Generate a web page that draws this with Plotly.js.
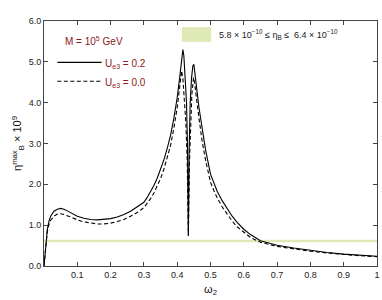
<!DOCTYPE html>
<html>
<head>
<meta charset="utf-8">
<script src="https://cdn.plot.ly/plotly-3.0.1.min.js"></script>
<style>
html,body{margin:0;padding:0;background:#fff;}
#chart{width:382px;height:300px;}
</style>
</head>
<body>
<div id="chart"></div>
<script>
// omega_2 values and eta_B^max x 10^9 for U_e3 = 0.2 (solid)
var wSolid = [0, 0.005, 0.01, 0.015, 0.02, 0.03, 0.04, 0.05, 0.06, 0.07, 0.08, 0.1, 0.12, 0.14, 0.16, 0.18, 0.2, 0.22, 0.24, 0.26, 0.28, 0.3, 0.31, 0.32, 0.33, 0.34, 0.35, 0.36, 0.37, 0.38, 0.39, 0.40, 0.408, 0.413, 0.417, 0.42, 0.424, 0.428, 0.431, 0.4335, 0.436, 0.439, 0.443, 0.447, 0.45, 0.454, 0.46, 0.465, 0.475, 0.485, 0.5, 0.51, 0.52, 0.535, 0.55, 0.565, 0.58, 0.6, 0.62, 0.65, 0.68, 0.7, 0.75, 0.8, 0.85, 0.9, 0.95, 1.0];
var etaSolid = [0, 0.55, 0.9, 1.1, 1.22, 1.34, 1.39, 1.41, 1.39, 1.35, 1.3, 1.22, 1.17, 1.14, 1.13, 1.14, 1.16, 1.2, 1.26, 1.34, 1.44, 1.56, 1.68, 1.82, 1.97, 2.15, 2.36, 2.6, 2.88, 3.2, 3.62, 4.12, 4.65, 5.0, 5.3, 5.15, 4.6, 4.0, 2.9, 0.74, 2.9, 4.0, 4.6, 4.9, 4.94, 4.7, 4.25, 3.9, 3.35, 2.85, 2.25, 2.02, 1.83, 1.6, 1.4, 1.22, 1.07, 0.9, 0.77, 0.62, 0.55, 0.51, 0.44, 0.38, 0.33, 0.29, 0.26, 0.24];
// U_e3 = 0.0 (dashed)
var wDashed = [0, 0.005, 0.01, 0.015, 0.02, 0.03, 0.04, 0.05, 0.06, 0.08, 0.1, 0.12, 0.14, 0.16, 0.18, 0.2, 0.22, 0.24, 0.26, 0.28, 0.3, 0.31, 0.32, 0.33, 0.34, 0.35, 0.36, 0.37, 0.38, 0.39, 0.40, 0.407, 0.413, 0.417, 0.421, 0.426, 0.43, 0.4335, 0.437, 0.44, 0.444, 0.449, 0.453, 0.46, 0.465, 0.475, 0.485, 0.5, 0.51, 0.52, 0.535, 0.55, 0.565, 0.58, 0.6, 0.62, 0.65, 0.68, 0.7, 0.75, 0.8, 0.85, 0.9, 0.95, 1.0];
var etaDashed = [0, 0.5, 0.85, 1.02, 1.12, 1.22, 1.27, 1.28, 1.26, 1.2, 1.13, 1.08, 1.05, 1.03, 1.03, 1.05, 1.09, 1.14, 1.22, 1.31, 1.43, 1.53, 1.65, 1.79, 1.95, 2.14, 2.37, 2.63, 2.95, 3.38, 3.88, 4.35, 4.78, 4.6, 4.1, 3.5, 2.6, 0.74, 2.6, 3.5, 4.2, 4.62, 4.45, 3.95, 3.6, 3.05, 2.6, 2.05, 1.85, 1.67, 1.45, 1.27, 1.1, 0.96, 0.82, 0.7, 0.58, 0.52, 0.48, 0.42, 0.36, 0.32, 0.28, 0.25, 0.23];
// observed eta_B band (x 10^9)
var bandEta = [0.58, 0.64];
var bandOmega = [0, 1];
var xTickVals = [0, 0.1, 0.2, 0.3, 0.4, 0.5, 0.6, 0.7, 0.8, 0.9, 1];
var xTickText = ["", "0.1", "0.2", "0.3", "0.4", "0.5", "0.6", "0.7", "0.8", "0.9", "1"];
var yTickVals = [0, 1, 2, 3, 4, 5, 6];
var yTickText = ["0.0", "1.0", "2.0", "3.0", "4.0", "5.0", "6.0"];

var FONT = "Liberation Sans, Arial, Helvetica, sans-serif";
var RED = "#8b1a1a";
var BAND = "#dfe9b5";

var traces = [
  {x: wDashed, y: etaDashed, mode: "lines", line: {color: "#000", width: 1.1, dash: "4px,2.5px"}, showlegend: false, hoverinfo: "skip"},
  {x: wSolid, y: etaSolid, mode: "lines", line: {color: "#000", width: 1.1}, showlegend: false, hoverinfo: "skip"}
];

var layout = {
  width: 382, height: 300,
  margin: {l: 44, r: 5, t: 21, b: 34},
  paper_bgcolor: "#fff", plot_bgcolor: "#fff",
  font: {family: FONT, size: 9, color: "#222"},
  xaxis: {
    range: [0, 1], tickvals: xTickVals, ticktext: xTickText,
    ticks: "inside", ticklen: 4, tickcolor: "#444", mirror: "ticks",
    showline: true, linecolor: "#444", linewidth: 1, showgrid: false, zeroline: false,
    tickfont: {size: 9, color: "#222"},
    title: {text: "ω<sub>2</sub>", font: {size: 11, color: "#111"}, standoff: 6}
  },
  yaxis: {
    range: [0, 6], tickvals: yTickVals, ticktext: yTickText,
    ticks: "inside", ticklen: 4, tickcolor: "#444", mirror: "ticks",
    showline: true, linecolor: "#444", linewidth: 1, showgrid: false, zeroline: false,
    tickfont: {size: 9, color: "#222"},
    title: {text: "η<sup>max</sup><sub>B</sub> × 10<sup>9</sup>", font: {size: 11, color: "#111"}, standoff: 4}
  },
  shapes: [
    {type: "rect", xref: "x", yref: "y", x0: bandOmega[0], x1: bandOmega[1], y0: bandEta[0], y1: bandEta[1], fillcolor: BAND, line: {width: 0}, layer: "below"},
    {type: "rect", xref: "x", yref: "y", x0: 0.414, x1: 0.502, y0: 5.49, y1: 5.85, fillcolor: BAND, line: {width: 0}},
    {type: "line", xref: "paper", yref: "paper", x0: 0.04, x1: 0.173, y0: 0.831, y1: 0.831, line: {color: "#000", width: 1.1}},
    {type: "line", xref: "paper", yref: "paper", x0: 0.04, x1: 0.173, y0: 0.754, y1: 0.754, line: {color: "#000", width: 1.1, dash: "4px,2.5px"}}
  ],
  annotations: [
    {xref: "paper", yref: "paper", x: 0.057, y: 0.917, xanchor: "left", yanchor: "middle", showarrow: false,
     text: "M = 10<sup>5</sup> GeV", font: {family: FONT, size: 10, color: RED}},
    {xref: "paper", yref: "paper", x: 0.176, y: 0.825, xanchor: "left", yanchor: "middle", showarrow: false,
     text: "U<sub>e3</sub> = 0.2", font: {family: FONT, size: 10, color: RED}},
    {xref: "paper", yref: "paper", x: 0.176, y: 0.748, xanchor: "left", yanchor: "middle", showarrow: false,
     text: "U<sub>e3</sub> = 0.0", font: {family: FONT, size: 10, color: RED}},
    {xref: "x", yref: "y", x: 0.52, y: 5.67, xanchor: "left", yanchor: "middle", showarrow: false,
     text: "5.8 × 10<sup>−10</sup> ≤ η<sub>B</sub> ≤  6.4 × 10<sup>−10</sup>", font: {family: FONT, size: 9, color: "#222"}}
  ]
};

Plotly.newPlot("chart", traces, layout, {staticPlot: true, displayModeBar: false});
</script>
</body>
</html>
